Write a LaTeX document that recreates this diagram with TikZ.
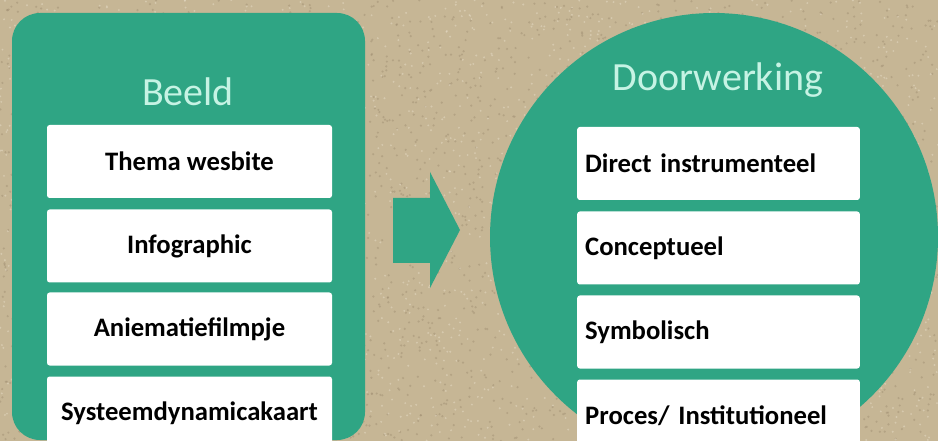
\documentclass[tikz,border=0pt]{standalone}
\usepackage{fontspec}
\setmainfont{Carlito}
\definecolor{sand}{HTML}{C6B695}
\definecolor{sanddark}{HTML}{9E8C70}
\definecolor{sandlight}{HTML}{E4D9C3}
\definecolor{teal}{HTML}{2FA584}
\definecolor{mint}{HTML}{C6F3E4}
\tikzset{
  panel/.style={fill=teal, draw=none},
  itembox/.style={fill=white, draw=none, rounded corners=2pt, minimum height=54.75pt, inner sep=0pt},
  lbox/.style={itembox, minimum width=213.75pt, font=\bfseries\fontsize{20}{24}\selectfont, align=center},
  rbox/.style={itembox, text width=200pt, inner xsep=6pt, font=\bfseries\fontsize{20}{24}\selectfont, align=left},
  title/.style={text=mint, font=\fontsize{30}{36}\selectfont, inner sep=0pt},
}
\begin{document}
\begin{tikzpicture}[x=0.75pt,y=-0.75pt]
\useasboundingbox (0,0) rectangle (938,441);
\clip (0,0) rectangle (938,441);
\fill[sand] (0,0) rectangle (938,441);
\pgfmathsetseed{11}
\foreach \i in {1,...,2600}{
  \fill[sanddark,opacity=0.45] (938*rnd,441*rnd) circle (0.9pt);
}
\foreach \i in {1,...,2200}{
  \fill[sandlight,opacity=0.55] (938*rnd,441*rnd) circle (0.8pt);
}
% left panel
\fill[panel, rounded corners=21pt] (12,13) rectangle (365,440);
\node[title] (beeld) at (188,92) {Beeld};
\node[lbox] (b1) at (189.5,161.5) {Thema wesbite};
\node[lbox] (b2) at (189.5,246) {Infographic};
\node[lbox] (b3) at (189.5,329) {Aniematiefilmpje};
\node[lbox] (b4) at (189.5,413) {Systeemdynamicakaart};
% arrow
\fill[teal] (393,198) -- (430,198) -- (430,172) -- (460,230) -- (430,288) -- (430,263) -- (393,263) -- cycle;
% circle
\fill[panel] (714,237) circle (168pt);
\node[title] (door) at (718,80) {Doorwerking};
\node[rbox] (d1) at (718.5,163.5) {Direct instrumenteel};
\node[rbox] (d2) at (718.5,248) {Conceptueel};
\node[rbox] (d3) at (718.5,332) {Symbolisch};
\node[rbox] (d4) at (718.5,416) {Proces/ Institutioneel};
\end{tikzpicture}
\end{document}
